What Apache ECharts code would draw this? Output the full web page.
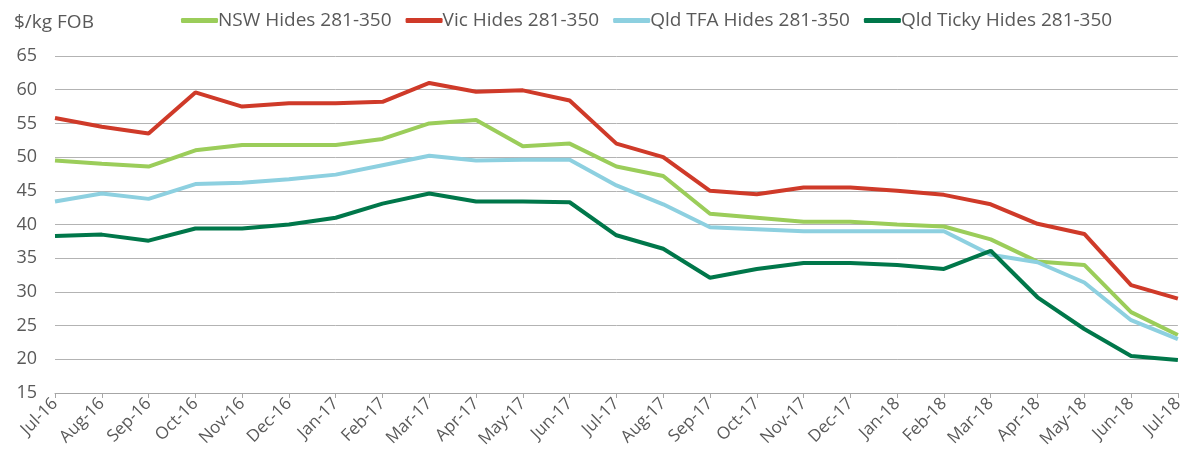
<!DOCTYPE html>
<html>
<head>
<meta charset="utf-8">
<script src="https://cdn.jsdelivr.net/npm/echarts@6/dist/echarts.min.js"></script>
<style>
  html, body { margin: 0; padding: 0; background: #fff; }
  #chart { width: 1186px; height: 459px; }
</style>
</head>
<body>
<div id="chart"></div>
<script>
const months = ['Jul-16', 'Aug-16', 'Sep-16', 'Oct-16', 'Nov-16', 'Dec-16', 'Jan-17', 'Feb-17', 'Mar-17',
  'Apr-17', 'May-17', 'Jun-17', 'Jul-17', 'Aug-17', 'Sep-17', 'Oct-17', 'Nov-17', 'Dec-17', 'Jan-18',
  'Feb-18', 'Mar-18', 'Apr-18', 'May-18', 'Jun-18', 'Jul-18'];

const nswHides = [49.5, 49.0, 48.6, 51.0, 51.8, 51.8, 51.8, 52.7, 55.0, 55.5, 51.6, 52.0, 48.6,
  47.2, 41.6, 41.0, 40.4, 40.4, 40.0, 39.7, 37.8, 34.5, 34.0, 27.0, 23.6];
const vicHides = [55.8, 54.5, 53.5, 59.6, 57.5, 58.0, 58.0, 58.2, 61.0, 59.7, 59.9, 58.4, 52.0,
  50.0, 45.0, 44.5, 45.5, 45.5, 45.0, 44.4, 43.0, 40.1, 38.6, 31.0, 29.0];
const qldTfaHides = [43.4, 44.6, 43.8, 46.0, 46.2, 46.7, 47.4, 48.8, 50.2, 49.5, 49.6, 49.6, 45.8,
  43.0, 39.6, 39.3, 39.0, 39.0, 39.0, 39.0, 35.5, 34.4, 31.4, 25.8, 23.0];
const qldTickyHides = [38.3, 38.5, 37.6, 39.4, 39.4, 40.0, 41.0, 43.1, 44.6, 43.4, 43.4, 43.3, 38.4,
  36.4, 32.1, 33.4, 34.3, 34.3, 34.0, 33.4, 36.1, 29.2, 24.5, 20.5, 19.9];

const FONT = 'Open Sans';
const TEXT = '#595959';

function lineSeries(name, data, color) {
  return {
    name: name,
    type: 'line',
    data: data,
    symbol: 'none',
    lineStyle: { width: 4, color: color },
    itemStyle: { color: color },
    emphasis: { disabled: true }
  };
}

const chart = echarts.init(document.getElementById('chart'), null, { renderer: 'canvas' });

chart.setOption({
  animation: false,
  backgroundColor: '#fff',
  title: {
    text: '$/kg FOB',
    left: 9,
    top: 8,
    textStyle: { color: TEXT, fontFamily: FONT, fontSize: 19, fontWeight: 'normal' }
  },
  legend: {
    top: 6,
    left: 176,
    itemWidth: 37,
    itemHeight: 5,
    itemGap: 14,
    icon: 'roundRect',
    textStyle: { color: TEXT, fontFamily: FONT, fontSize: 19, padding: [0, 0, 0, -5] },
    data: ['NSW Hides 281-350', 'Vic Hides 281-350', 'Qld TFA Hides 281-350', 'Qld Ticky Hides 281-350']
  },
  grid: { left: 55, right: 5, top: 56, bottom: 66, containLabel: false },
  xAxis: {
    type: 'category',
    data: months,
    boundaryGap: false,
    axisLine: { lineStyle: { color: '#a6a6a6', width: 1 } },
    axisTick: { show: true, length: 5, lineStyle: { color: '#a6a6a6' } },
    axisLabel: { color: TEXT, fontFamily: FONT, fontSize: 17, rotate: 45, margin: 8, interval: 0 },
    splitLine: { show: false }
  },
  yAxis: {
    type: 'value',
    min: 15,
    max: 65,
    interval: 5,
    axisLine: { show: false },
    axisTick: { show: false },
    axisLabel: { color: TEXT, fontFamily: FONT, fontSize: 18, margin: 18 },
    splitLine: { lineStyle: { color: '#b3b3b3', width: 1 } }
  },
  series: [
    lineSeries('NSW Hides 281-350', nswHides, '#9bcd5a'),
    lineSeries('Vic Hides 281-350', vicHides, '#cf3a29'),
    lineSeries('Qld TFA Hides 281-350', qldTfaHides, '#8dd0e0'),
    lineSeries('Qld Ticky Hides 281-350', qldTickyHides, '#00774a')
  ]
});
</script>
</body>
</html>
